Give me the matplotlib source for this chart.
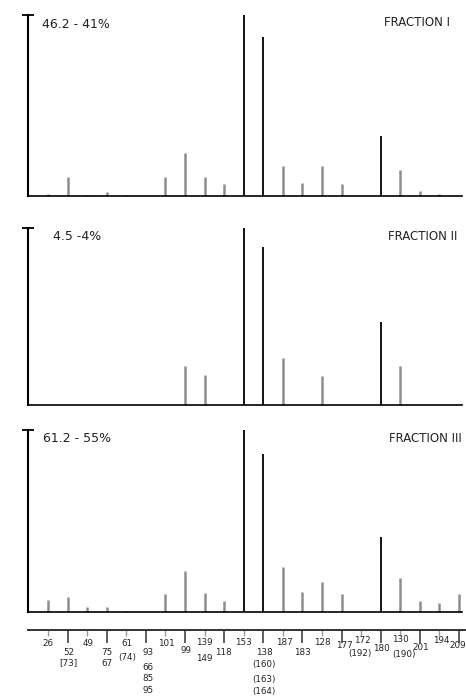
import matplotlib
matplotlib.use('Agg')
import matplotlib.pyplot as plt
import numpy as np

# peak labels along the bottom scale (left to right)
peak_labels = ['26', '52', '49', '75', '61', '93', '101', '99', '139', '118', '153',
               '138', '187', '183', '128', '177', '172', '180', '130', '201', '194', '209']
# extra labels written under some peaks
sub_labels = {1: ['[73]'], 3: ['67'], 4: ['(74)'], 5: ['66', '85', '95'], 8: ['149'],
              11: ['(160)', '(163)', '(164)'], 16: ['(192)'], 18: ['(190)']}

fractions = ['FRACTION I', 'FRACTION II', 'FRACTION III']
yields = ['46.2 - 41%', '4.5 -4%', '61.2 - 55%']

# relative intensities (% of tallest peak)
frac1 = [1, 10.5, 0.5, 2, 0.5, 0, 10.5, 24, 10.5, 6.5, 100, 88, 16.5, 7, 16.5, 6.5, 0, 33, 14.5, 2.5, 1, 0]
frac2 = [0, 0, 0, 0, 0, 0, 0, 22, 17, 0, 100, 89, 26.5, 0, 16.5, 0, 0, 47, 22, 0, 0, 0]
frac3 = [6.5, 8, 2.7, 2.7, 0.5, 0, 10, 22.5, 10.5, 6, 100, 87, 24.5, 11, 16.5, 10, 0, 41, 18.5, 6, 5, 10]

# --- layout (pixels of the 466x698 figure) ---
W, H = 466, 698
dark_peaks = [10, 11, 17]
panel_px = [(15, 196), (228, 405), (430, 612)]       # top, bottom of each panel
left_px, right_px = 28, 462
x0_px, step_px = 48, 19.57                           # pixel of first peak, spacing
yield_pos = [(42, 24), (53, 236), (43, 438)]
frac_pos = [(450, 23), (457, 236), (462, 438)]
label_y = [643, 652, 643, 652, 643, 652, 643, 650, 642, 652, 642,
           652, 642, 652, 642, 645, 640, 648, 639, 647, 640, 645]
label_dx = [0, 1, 1, 0, 1, 2, 1, 1, 0, -1, 0, 1, 2, 0, 0, 3, 1, 1, 0, 1, 2, -1]
sub_dx = {16: -1, 18: 4}
sub_y = {1: [663], 3: [663], 4: [657], 5: [667, 678, 690], 8: [658],
         11: [664, 679, 691], 16: [653], 18: [654]}
scale_px = 630

xlim = ((left_px - x0_px) / step_px, (right_px - x0_px) / step_px)
x = np.arange(len(peak_labels))
colors = ['black' if i in dark_peaks else '#8e8e8e' for i in x]
widths = [1.3 if i in dark_peaks else 1.8 for i in x]

fig = plt.figure(figsize=(W / 100, H / 100), dpi=100)
plt.rcParams['font.family'] = 'DejaVu Sans'

for k, (vals, (top, bot)) in enumerate(zip([frac1, frac2, frac3], panel_px)):
    ax = fig.add_axes([left_px / W, 1 - bot / H, (right_px - left_px) / W, (bot - top) / H])
    ax.vlines(x, 0, vals, colors=colors, linewidths=widths, clip_on=False)
    ax.set_xlim(*xlim)
    ax.set_ylim(0, 100)
    for s in ['top', 'right']:
        ax.spines[s].set_visible(False)
    ax.spines['left'].set_linewidth(1.5)
    ax.spines['bottom'].set_linewidth(1.2)
    ax.set_xticks([])
    ax.set_yticks([100])
    ax.set_yticklabels([])
    ax.tick_params(axis='y', direction='inout', length=9, width=1.3)

    fig.text(yield_pos[k][0] / W, 1 - yield_pos[k][1] / H, yields[k],
             fontsize=9, ha='left', va='center', color='#222222')
    fig.text(frac_pos[k][0] / W, 1 - frac_pos[k][1] / H, fractions[k],
             fontsize=8.5, ha='right', va='center', color='#222222')

# bottom scale with the peak labels
axs = fig.add_axes([left_px / W, 0, (W - left_px) / W, (H - scale_px) / H])
axs.set_xlim(xlim[0], (W - x0_px) / step_px)
axs.set_ylim(H, scale_px)
for s in ['left', 'right', 'bottom']:
    axs.spines[s].set_visible(False)
axs.spines['top'].set_linewidth(1.4)
axs.spines['top'].set_color('#333333')
axs.set_yticks([])
axs.xaxis.tick_top()
axs.set_xticks(x[1::2])
axs.set_xticks(x[0::2], minor=True)
axs.set_xticklabels([])
axs.tick_params(axis='x', which='major', direction='in', length=9, width=1.2, color='#444444')
axs.tick_params(axis='x', which='minor', direction='in', length=4, width=1.0, color='#999999')

for i, lab in enumerate(peak_labels):
    axs.text(i + label_dx[i] / step_px, label_y[i], lab, fontsize=6.3,
             ha='center', va='center', color='#222222', clip_on=False)
for i, labs in sub_labels.items():
    dx = sub_dx.get(i, label_dx[i])
    for lab, yy in zip(labs, sub_y[i]):
        axs.text(i + dx / step_px, yy, lab, fontsize=6.3,
                 ha='center', va='center', color='#222222', clip_on=False)

plt.savefig('out.png', dpi=100)
